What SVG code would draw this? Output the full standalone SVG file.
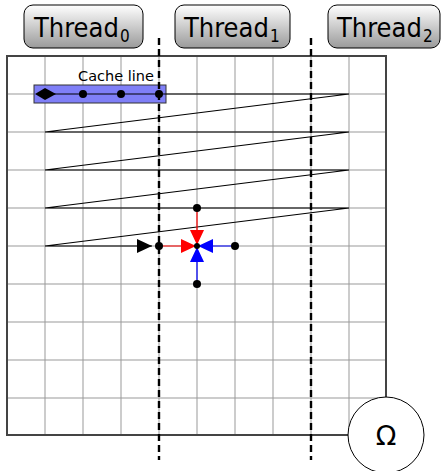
<svg xmlns="http://www.w3.org/2000/svg" width="444" height="471" viewBox="0 0 444 471">
<style>
.grid{stroke:#999;stroke-width:1;fill:none}
.border{stroke:#444;stroke-width:2;fill:none}
.dash{stroke:#000;stroke-width:2.4;stroke-dasharray:7 4;fill:none}
.thread{fill:url(#tg);stroke:#000;stroke-width:1}
.tt{font-family:"DejaVu Sans Condensed","DejaVu Sans",sans-serif;font-stretch:condensed;font-size:27px;fill:#000}
.sub{font-size:17px}
.path{stroke:#000;stroke-width:1.2;fill:none}
.dot{fill:#000}
</style>
<defs>
<linearGradient id="tg" x1="0" y1="0" x2="0" y2="1">
<stop offset="0" stop-color="#ffffff"/>
<stop offset="1" stop-color="#9a9a9a"/>
</linearGradient>
<marker id="ab" markerWidth="15" markerHeight="14" refX="15" refY="7" orient="auto" markerUnits="userSpaceOnUse"><path d="M0,0 L15,7 L0,14 Z" fill="#000"/></marker>
<marker id="ar" markerWidth="15" markerHeight="14" refX="15" refY="7" orient="auto" markerUnits="userSpaceOnUse"><path d="M0,0 L15,7 L0,14 Z" fill="#f00"/></marker>
<marker id="abl" markerWidth="15" markerHeight="14" refX="15" refY="7" orient="auto" markerUnits="userSpaceOnUse"><path d="M0,0 L15,7 L0,14 Z" fill="#00f"/></marker>
</defs>
<rect x="0" y="0" width="444" height="471" fill="#fff"/>
<g id="grid">
<path class="grid" d="M45,56V435M83,56V435M121,56V435M159,56V435M197,56V435M235,56V435M273,56V435M311,56V435M349,56V435M7,94H386M7,132H386M7,170H386M7,208H386M7,246H386M7,284H386M7,322H386M7,360H386M7,398H386"/>
<rect class="border" x="7" y="56" width="379" height="379"/>
</g>
<g id="cacheline">
<rect x="34" y="85" width="132" height="18" fill="#7f7ff7" stroke="#333" stroke-width="1"/>
<text x="116" y="81" text-anchor="middle" style="font-family:'DejaVu Sans',sans-serif;font-size:14.5px;font-weight:500">Cache line</text>
</g>
<g id="connectors">
<path class="path" d="M45,94L349,94L45,132L349,132L45,170L349,170L45,208L349,208L45,246L152,246" marker-end="url(#ab)"/>
<path d="M197,208L197,245" stroke="#f00" stroke-width="1.2" marker-end="url(#ar)"/>
<path d="M159,246L196,246" stroke="#f00" stroke-width="1.2" marker-end="url(#ar)"/>
<path d="M235,246L198,246" stroke="#00f" stroke-width="1.2" marker-end="url(#abl)"/>
<path d="M197,284L197,247" stroke="#00f" stroke-width="1.2" marker-end="url(#abl)"/>
</g>
<g id="points">
<path d="M35,94L45,88L56,94L45,100Z" fill="#000"/>
<circle class="dot" cx="83" cy="94" r="4"/>
<circle class="dot" cx="121" cy="94" r="4"/>
<circle class="dot" cx="159" cy="94" r="4"/>
<circle class="dot" cx="159" cy="246" r="4"/>
<circle class="dot" cx="197" cy="208" r="4"/>
<circle class="dot" cx="235" cy="246" r="4"/>
<circle class="dot" cx="197" cy="284" r="4"/>
<circle class="dot" cx="197" cy="246" r="3"/>
</g>
<g id="dividers">
<path class="dash" d="M159,38V460M311,38V460"/>
</g>
<g id="thread0">
<rect class="thread" x="24" y="5" width="119" height="43" rx="9"/>
<text class="tt" x="34" y="37">Thread<tspan class="sub" dx="1" dy="5">0</tspan></text>
</g>
<g id="thread1">
<rect class="thread" x="175" y="5" width="115" height="43" rx="9"/>
<text class="tt" x="184" y="37">Thread<tspan class="sub" dx="1" dy="5">1</tspan></text>
</g>
<g id="thread2">
<rect class="thread" x="328" y="5" width="112" height="43" rx="9"/>
<text class="tt" x="337" y="37">Thread<tspan class="sub" dx="1" dy="5">2</tspan></text>
</g>
<g id="omega">
<circle cx="386" cy="435" r="38" fill="#fff" stroke="#000" stroke-width="1"/>
<text x="386" y="445" text-anchor="middle" style="font-family:'DejaVu Sans',sans-serif;font-size:27px">Ω</text>
</g>
</svg>
